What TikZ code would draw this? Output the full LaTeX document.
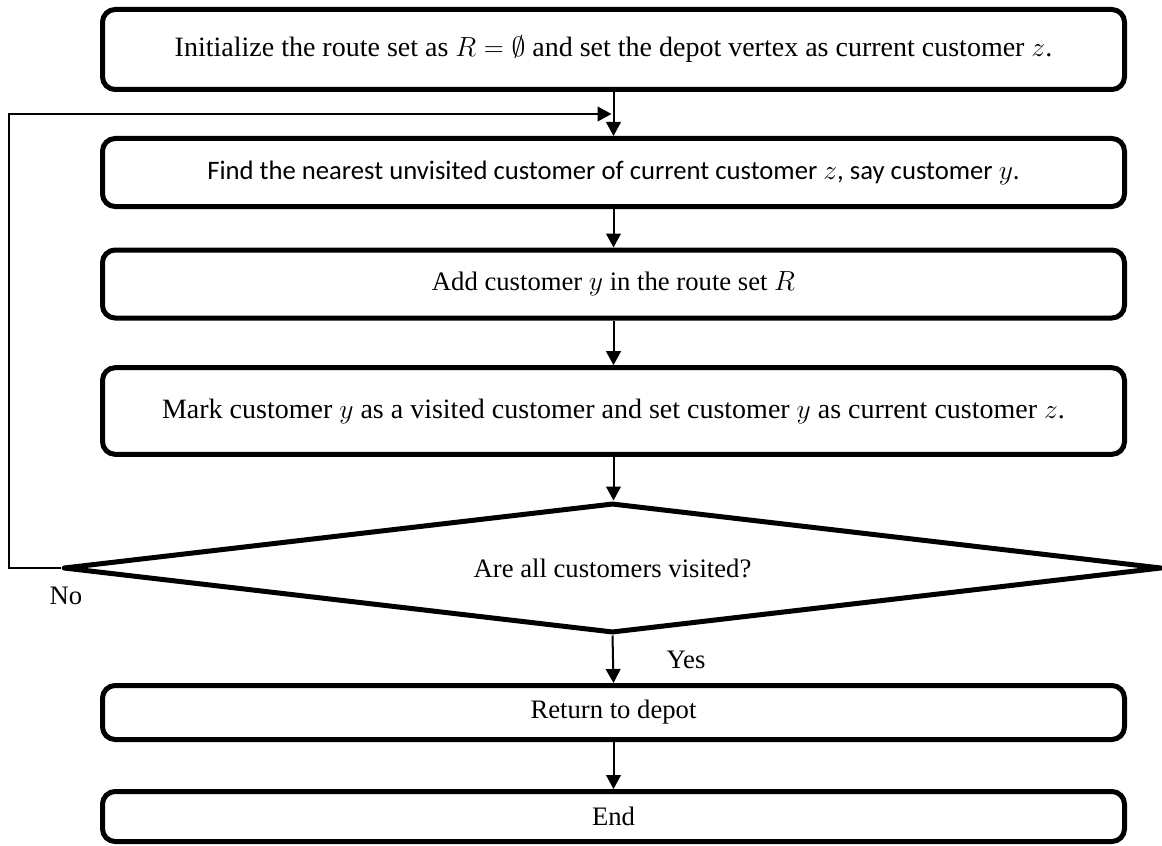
\documentclass[tikz,border=0pt]{standalone}
\usepackage{fontspec}
\setmainfont{Liberation Serif}
\newfontfamily\calibri{Carlito}
\usetikzlibrary{shapes.geometric,arrows.meta,calc}
\begin{document}
\begin{tikzpicture}[x=0.75pt,y=-0.75pt,
  every node/.style={font=\fontsize{20}{24}\selectfont},
  wide/.style={font=\fontsize{21}{25}\selectfont},
  box/.style={draw, line width=3.75pt, rounded corners=9.5pt, minimum width=766.5pt, inner sep=0pt, align=center},
  dec/.style={draw, diamond, line width=3.75pt, line join=round, minimum width=824pt, minimum height=97.5pt, inner sep=0pt, aspect=8.4},
  conn/.style={line width=1.5pt, -{Triangle[length=10.5pt,width=11pt]}},
  lbl/.style={inner sep=0pt}]
\useasboundingbox (0,0) rectangle (1162,845);
\node[box, wide, minimum height=60pt] (b1) at (613.5,49.5) {Initialize the route set as $R=\emptyset$ and set the depot vertex as current customer $z$.};
\node[box, minimum height=51pt] (b2) at (613.5,172.5) {{\calibri Find the nearest unvisited customer of current customer $z$, say customer $y$.}};
\node[box, minimum height=51pt] (b3) at (613.5,284) {Add customer $y$ in the route set $R$};
\node[box, wide, minimum height=65pt] (b4) at (613.5,411) {Mark customer $y$ as a visited customer and set customer $y$ as current customer $z$.};
\node[dec] (d) at (612.5,568) {Are all customers visited?};
\node[box, minimum height=40.5pt] (b5) at (613.5,712.5) {Return to depot};
\node[box, minimum height=37.5pt] (b6) at (613.5,816.5) {End};
\coordinate (fb) at (9,114);
\draw[conn] (b1.south) -- (b2.north);
\draw[conn] (b2.south) -- (b3.north);
\draw[conn] (b3.south) -- (b4.north);
\draw[conn] (b4.south) -- (b4.south |- d.north);
\draw[conn] (d.south) -- (b5.north);
\draw[conn] (b5.south) -- (b6.north);
\draw[conn] (d.west) -| (fb) -- ($(b1.south |- fb)+(-2,0)$);
\node[lbl] (no) at (66,596) {No};
\node[lbl] (yes) at (686,660) {Yes};
\end{tikzpicture}
\end{document}
